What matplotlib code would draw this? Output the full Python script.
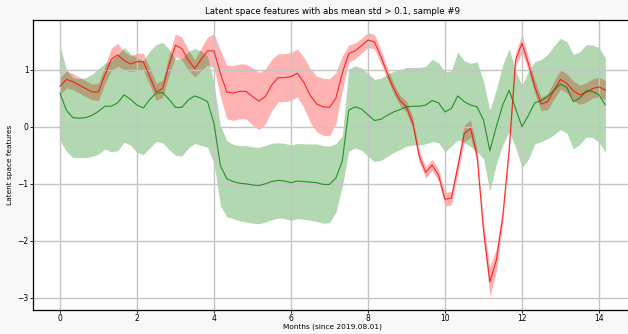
import numpy as np
import matplotlib
matplotlib.use("Agg")
import matplotlib.pyplot as plt

# values (86 samples, 6 per month)
red_mean = [0.71, 0.83, 0.79, 0.73, 0.67, 0.61, 0.61, 0.91, 1.18, 1.26,
            1.16, 1.10, 1.14, 1.14, 0.88, 0.61, 0.67, 1.08, 1.43, 1.37,
            1.17, 1.02, 1.18, 1.33, 1.33, 0.94, 0.61, 0.59, 0.62, 0.62,
            0.53, 0.45, 0.53, 0.73, 0.86, 0.86, 0.88, 0.94, 0.78, 0.55,
            0.40, 0.35, 0.34, 0.50, 0.94, 1.28, 1.33, 1.42, 1.52, 1.49,
            1.23, 0.94, 0.67, 0.46, 0.35, 0.06, -0.52, -0.80, -0.67, -0.85,
            -1.27, -1.25, -0.70, -0.12, -0.03, -0.50, -1.81, -2.72, -2.34, -1.58,
            -0.40, 1.17, 1.46, 1.11, 0.70, 0.40, 0.44, 0.64, 0.83, 0.76,
            0.63, 0.56, 0.60, 0.67, 0.70, 0.64]
red_std = [0.15, 0.15, 0.14, 0.14, 0.14, 0.14, 0.15, 0.15, 0.20, 0.20,
           0.16, 0.14, 0.15, 0.15, 0.15, 0.15, 0.15, 0.18, 0.20, 0.20,
           0.18, 0.15, 0.20, 0.24, 0.30, 0.40, 0.47, 0.48, 0.48, 0.48,
           0.50, 0.50, 0.48, 0.45, 0.42, 0.42, 0.42, 0.42, 0.44, 0.47,
           0.49, 0.50, 0.50, 0.45, 0.30, 0.15, 0.14, 0.13, 0.13, 0.13,
           0.12, 0.10, 0.09, 0.09, 0.10, 0.10, 0.10, 0.10, 0.10, 0.10,
           0.12, 0.12, 0.12, 0.15, 0.15, 0.12, 0.15, 0.26, 0.20, 0.12,
           0.10, 0.12, 0.16, 0.12, 0.12, 0.12, 0.14, 0.16, 0.17, 0.17,
           0.17, 0.17, 0.17, 0.17, 0.17, 0.17]
green_mean = [0.59, 0.29, 0.16, 0.15, 0.16, 0.20, 0.27, 0.36, 0.36, 0.42,
              0.56, 0.48, 0.38, 0.33, 0.48, 0.59, 0.60, 0.48, 0.34, 0.34,
              0.47, 0.54, 0.50, 0.44, 0.06, -0.68, -0.91, -0.96, -0.99, -1.00,
              -1.02, -1.03, -1.00, -0.96, -0.94, -0.95, -0.98, -0.95, -0.96, -0.97,
              -0.98, -1.01, -1.01, -0.90, -0.60, 0.29, 0.35, 0.31, 0.21, 0.11,
              0.13, 0.20, 0.26, 0.30, 0.35, 0.36, 0.36, 0.38, 0.46, 0.42,
              0.26, 0.32, 0.54, 0.44, 0.38, 0.35, 0.12, -0.42, 0.00, 0.38,
              0.64, 0.32, 0.00, 0.20, 0.42, 0.46, 0.53, 0.64, 0.75, 0.69,
              0.44, 0.50, 0.63, 0.62, 0.56, 0.38]
green_std = [0.83, 0.72, 0.70, 0.69, 0.70, 0.72, 0.75, 0.75, 0.80, 0.84,
             0.83, 0.80, 0.83, 0.82, 0.85, 0.85, 0.88, 0.88, 0.84, 0.85,
             0.85, 0.83, 0.83, 0.80, 0.70, 0.70, 0.67, 0.65, 0.66, 0.67,
             0.67, 0.67, 0.67, 0.67, 0.66, 0.66, 0.66, 0.66, 0.66, 0.67,
             0.68, 0.68, 0.67, 0.60, 0.45, 0.72, 0.72, 0.72, 0.73, 0.72,
             0.72, 0.72, 0.71, 0.70, 0.69, 0.68, 0.68, 0.68, 0.72, 0.70,
             0.70, 0.66, 0.77, 0.72, 0.73, 0.79, 0.68, 0.71, 0.66, 0.70,
             0.73, 0.67, 0.72, 0.77, 0.72, 0.72, 0.74, 0.78, 0.80, 0.80,
             0.83, 0.81, 0.81, 0.81, 0.83, 0.83]

title = "Latent space features with abs mean std > 0.1, sample #9"
xlabel = "Months (since 2019.08.01)"
ylabel = "Latent space features"

red_mean = np.array(red_mean)
red_std = np.array(red_std)
green_mean = np.array(green_mean)
green_std = np.array(green_std)
months = np.arange(len(red_mean)) / 6

fig = plt.figure(figsize=(6.28, 3.34), dpi=100, facecolor="#f8f8f8")
ax = fig.add_axes([0.052, 0.072, 0.9554, 0.868])

ax.fill_between(months, red_mean - red_std, red_mean + red_std, color="red", alpha=0.3, lw=0)
ax.plot(months, red_mean, color="red", lw=0.8, alpha=0.8)
ax.fill_between(months, green_mean - green_std, green_mean + green_std, color="green", alpha=0.3, lw=0)
ax.plot(months, green_mean, color="green", lw=0.8, alpha=0.8)

ax.set_xlim(-0.709, 14.875)
ax.set_ylim(-3.21, 1.87)
ax.set_xticks(range(0, 15, 2))
ax.set_yticks(range(-3, 2))
ax.grid(True, color="#c4c4c4", lw=1.0)
ax.tick_params(labelsize=5.5, length=2, width=0.6, pad=1)
for s in ax.spines.values():
    s.set_linewidth(0.9)

ax.set_title(title, fontsize=6.2, pad=4)
ax.set_xlabel(xlabel, fontsize=5.3, labelpad=0)
ax.set_ylabel(ylabel, fontsize=5.3, labelpad=3)

fig.savefig("out.png", dpi=100, facecolor=fig.get_facecolor())
